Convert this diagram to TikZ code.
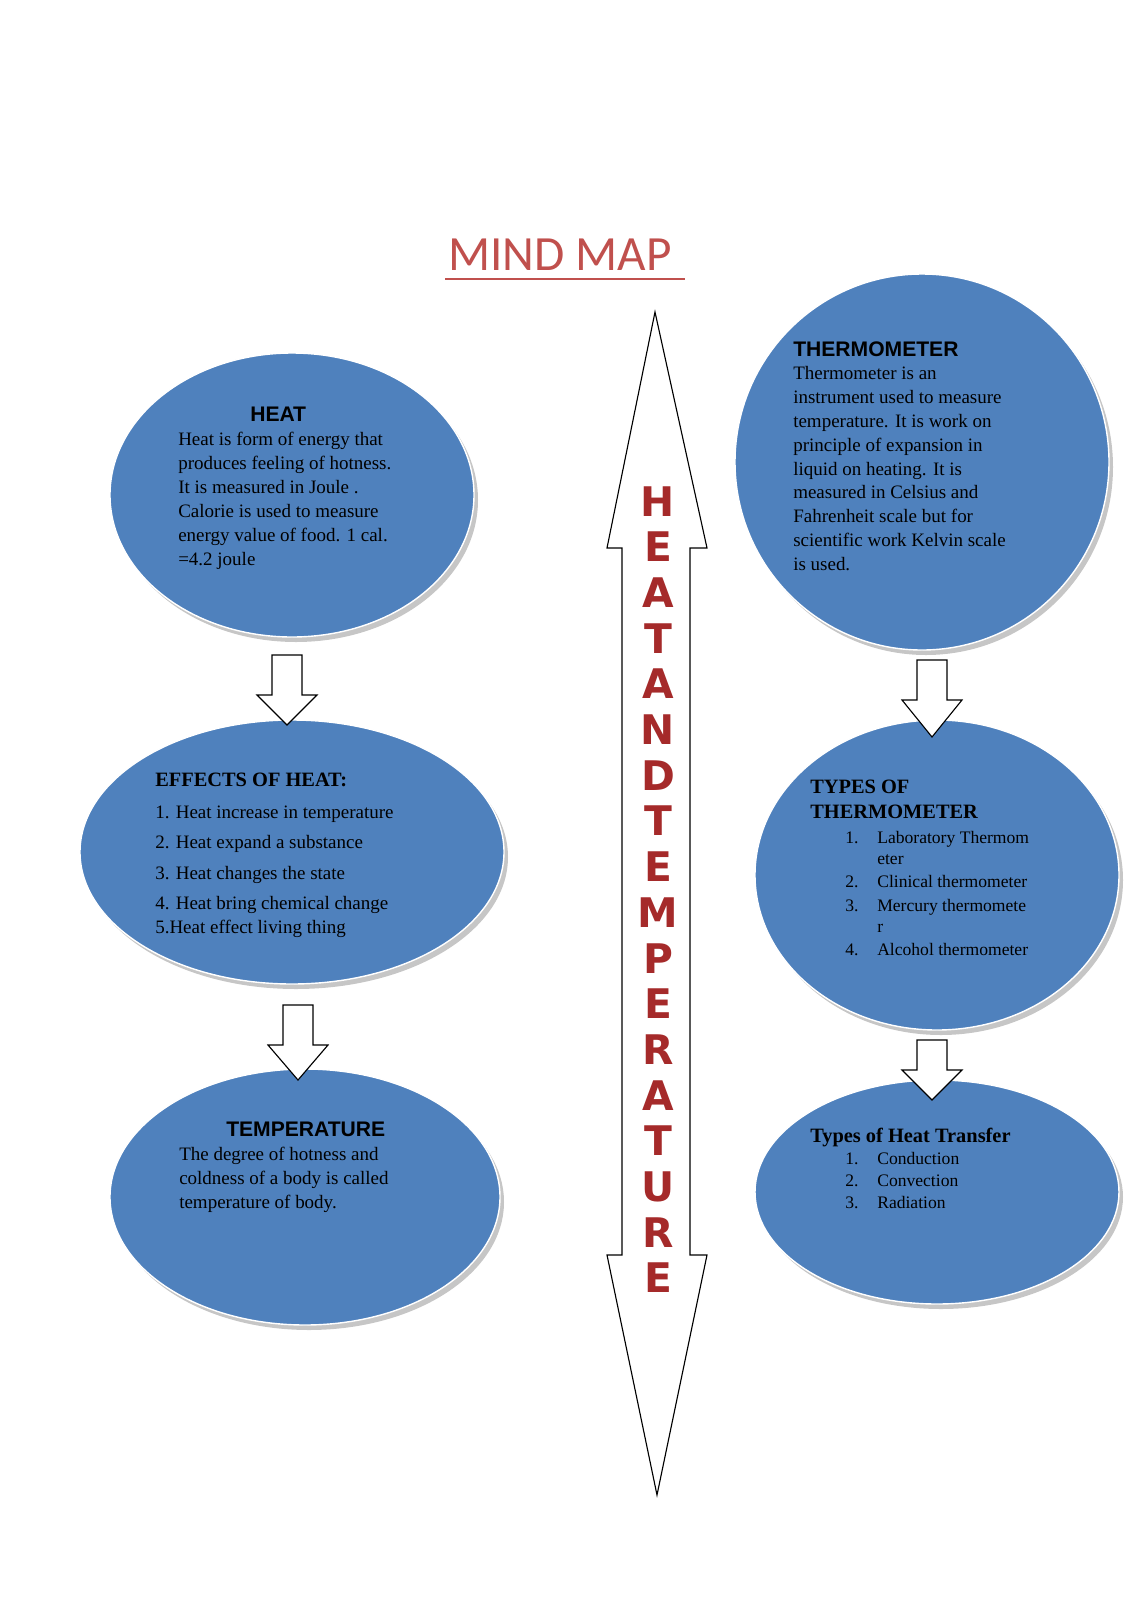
\documentclass[tikz,border=0pt]{standalone}
\usepackage{fontspec}
\setmainfont{Liberation Serif}
\newfontfamily\hdfont{Liberation Sans}
\newfontfamily\calfont{Carlito}
\newfontfamily\dvfont{DejaVu Sans}
\usetikzlibrary{shapes.geometric}
\definecolor{bblue}{HTML}{4F81BD}
\definecolor{tred}{HTML}{C0504D}
\definecolor{lred}{HTML}{A52A2A}
\tikzset{
 bub/.style={ellipse,fill=bblue,draw=white,line width=1pt,inner sep=0pt},
 shd/.style={ellipse,fill=gray!45,inner sep=0pt},
 txt/.style={anchor=base west,inner sep=0pt,font=\fontsize{13.5}{16}\selectfont},
 hdt/.style={anchor=base west,inner sep=0pt,font=\hdfont\bfseries\fontsize{15}{18}\selectfont},
 arr/.style={draw=black,fill=white,line width=0.8pt,line join=miter},
 big/.style={anchor=base,inner sep=0pt,text=lred,font=\dvfont\bfseries\fontsize{29}{30}\selectfont}
}
\begin{document}
\begin{tikzpicture}[x=0.025cm,y=-0.025cm]
\useasboundingbox (0,0) rectangle (1130,1600);
% title
\node[anchor=base,inner sep=0pt,text=tred,font=\calfont\fontsize{35}{40}\selectfont] (title) at (560,270) {MIND MAP};
\draw[tred,line width=1.2pt] (445,279) -- (685,279);
% ellipses
\foreach \n/\x/\y/\w/\h in {heat/292/495/364/284, eff/292/852/424/264, temp/305/1197/390/256, thermo/922/462/374/376, types/937/875/364/310, trans/937/1192/364/224}{
 \node[shd,minimum width=\w*0.025cm,minimum height=\h*0.025cm] at (\x+4,\y+5) {};
 \node[bub,minimum width=\w*0.025cm,minimum height=\h*0.025cm] (\n) at (\x,\y) {};
}
% double arrow
\draw[arr] (655,312) -- (707,548) -- (690,548) -- (690,1255) -- (707,1255) -- (657,1495) -- (607,1255) -- (622,1255) -- (622,548) -- (607,548) -- cycle;
\foreach \l [count=\i] in {H,E,A,T,A,N,D,T,E,M,P,E,R,A,T,U,R,E}{
 \node[big] (L\i) at (658,{503+(\i-1)*45.7+13}) {\l};
}
% small arrows
\foreach \x/\a/\b/\t in {287/655/695/725, 298/1005/1045/1080, 932/660/700/737, 932/1040/1070/1100}{
 \draw[arr] (\x-15,\a) -- (\x+15,\a) -- (\x+15,\b) -- (\x+30,\b) -- (\x,\t) -- (\x-30,\b) -- (\x-15,\b) -- cycle;
}
% HEAT
\node[hdt] (h0) at (250,421) {HEAT};
\node[txt] (h1) at (178,445) {Heat is form of energy that};
\node[txt] (h2) at (178,469) {produces feeling of hotness.};
\node[txt] (h3) at (178,493) {It is measured in Joule .};
\node[txt] (h4) at (178,517) {Calorie is used to measure};
\node[txt] (h5) at (178,541) {energy value of food. 1 cal.};
\node[txt] (h6) at (178,565) {=4.2 joule};
% EFFECTS
\node[txt,font=\bfseries\fontsize{14.5}{17}\selectfont] (e0) at (155,786) {EFFECTS OF HEAT:};
\node[txt] (e1) at (155,818) {1. Heat increase in temperature};
\node[txt] (e2) at (155,848) {2. Heat expand a substance};
\node[txt] (e3) at (155,879) {3. Heat changes the state};
\node[txt] (e4) at (155,909) {4. Heat bring chemical change};
\node[txt] (e5) at (155,933) {5.Heat effect living thing};
% TEMPERATURE
\node[hdt] (t0) at (226,1136) {TEMPERATURE};
\node[txt] (t1) at (179,1160) {The degree of hotness and};
\node[txt] (t2) at (179,1184) {coldness of a body is called};
\node[txt] (t3) at (179,1208) {temperature of body.};
% THERMOMETER
\node[hdt] (r0) at (793,356) {THERMOMETER};
\node[txt] (r1) at (793,379) {Thermometer is an};
\node[txt] (r2) at (793,403) {instrument used to measure};
\node[txt] (r3) at (793,427) {temperature. It is work on};
\node[txt] (r4) at (793,451) {principle of expansion in};
\node[txt] (r5) at (793,475) {liquid on heating. It is};
\node[txt] (r6) at (793,498) {measured in Celsius and};
\node[txt] (r7) at (793,522) {Fahrenheit scale but for};
\node[txt] (r8) at (793,546) {scientific work Kelvin scale};
\node[txt] (r9) at (793,570) {is used.};
% TYPES
\node[txt,font=\bfseries\fontsize{14.5}{17}\selectfont] (y0) at (810,793) {TYPES OF};
\node[txt,font=\bfseries\fontsize{14.5}{17}\selectfont] (y00) at (810,818) {THERMOMETER};
\foreach \nn/\yy/\tt [count=\k] in {1./843/Laboratory Thermom, /864/eter, 2./887/Clinical thermometer, 3./911/Mercury thermomete, /932/r, 4./955/Alcohol thermometer}{
 \node[txt,font=\fontsize{12.5}{15}\selectfont] (yn\k) at (845,\yy) {\nn};
 \node[txt,font=\fontsize{12.5}{15}\selectfont] (yt\k) at (877,\yy) {\tt};
}
% TRANSFER
\node[txt,font=\bfseries\fontsize{14.5}{17}\selectfont] (z0) at (810,1142) {Types of Heat Transfer};
\foreach \nn/\yy/\tt [count=\k] in {1./1164/Conduction, 2./1186/Convection, 3./1208/Radiation}{
 \node[txt,font=\fontsize{12.5}{15}\selectfont] (zn\k) at (845,\yy) {\nn};
 \node[txt,font=\fontsize{12.5}{15}\selectfont] (zt\k) at (877,\yy) {\tt};
}
\end{tikzpicture}
\end{document}
